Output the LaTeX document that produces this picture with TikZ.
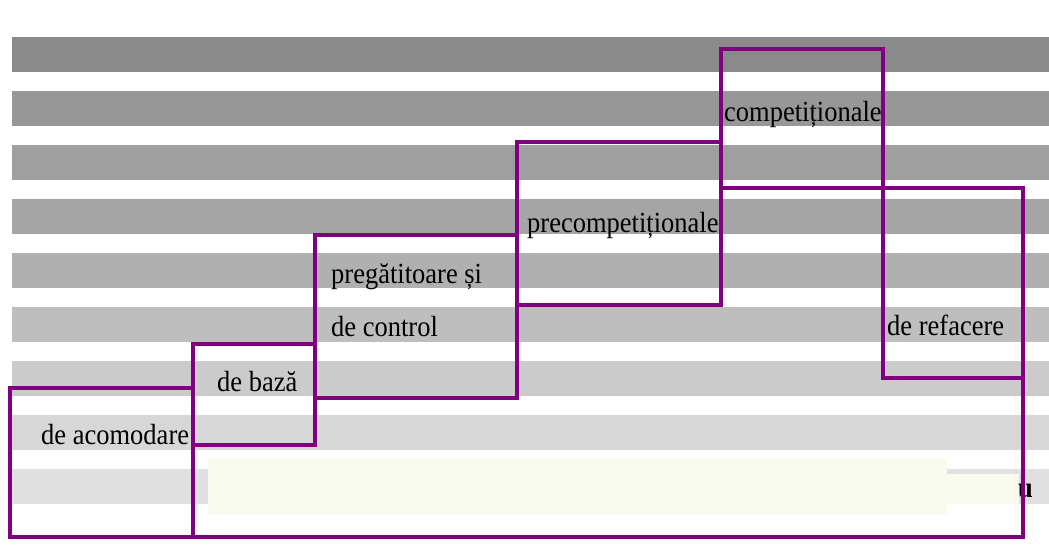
\documentclass[tikz,border=0pt]{standalone}
\usepackage{fontspec}
\setmainfont{Liberation Serif}
% labels are set slightly taller than their natural shape
\newcommand\tallt[1]{\scalebox{1}[1.1]{#1}}
\begin{document}
\begin{tikzpicture}[x=1pt,y=-1pt,
  phase/.style={draw=phasepurple,line width=3.6pt,line join=miter},
  lbl/.style={anchor=base west,inner sep=0pt,font=\fontsize{26.5}{30}\selectfont}]
\definecolor{phasepurple}{RGB}{128,0,128}
\definecolor{notefill}{RGB}{248,251,238}
\useasboundingbox (0,0) rectangle (1049,547);
\fill[white] (0,0) rectangle (1049,547);

% horizontal background bands, dark at the top to light at the bottom
\foreach \i/\g in {0/138,1/151,2/159,3/165,4/176,5/190,6/203,7/215,8/224}{
  \definecolor{bandcol}{RGB}{\g,\g,\g}
  \fill[bandcol] (12,37+54*\i) rectangle (1049,72+54*\i);
}

% light note area near the bottom
\fill[notefill] (208,458) rectangle (947,515);
\fill[notefill] (947,474) rectangle (1019,504);
\node[lbl,font=\fontsize{26.5}{30}\selectfont\bfseries] (u) at (1018,497) {\tallt{u}};

% phase boxes
\draw[phase] (10,388) rectangle (193,537);
\draw[phase] (193,344) rectangle (315,445);
\draw[phase] (315,235) rectangle (517,398);
\draw[phase] (517,142) rectangle (721,305);
\draw[phase] (721,49) rectangle (883,188);
\draw[phase] (883,188) rectangle (1023,378);
\draw[phase] (1023,378) -- (1023,537) -- (193,537) -- (193,445);

% labels
\node[lbl] (acom) at (41,444) {\tallt{de acomodare}};
\node[lbl] (baza) at (217,391) {\tallt{de bază}};
\node[lbl] (preg) at (331,283) {\tallt{pregătitoare și}};
\node[lbl] (ctrl) at (331,336) {\tallt{de control}};
\node[lbl] (prec) at (527,232) {\tallt{precompetiționale}};
\node[lbl] (comp) at (724,121) {\tallt{competiționale}};
\node[lbl] (refa) at (887,335) {\tallt{de refacere}};
\end{tikzpicture}
\end{document}
